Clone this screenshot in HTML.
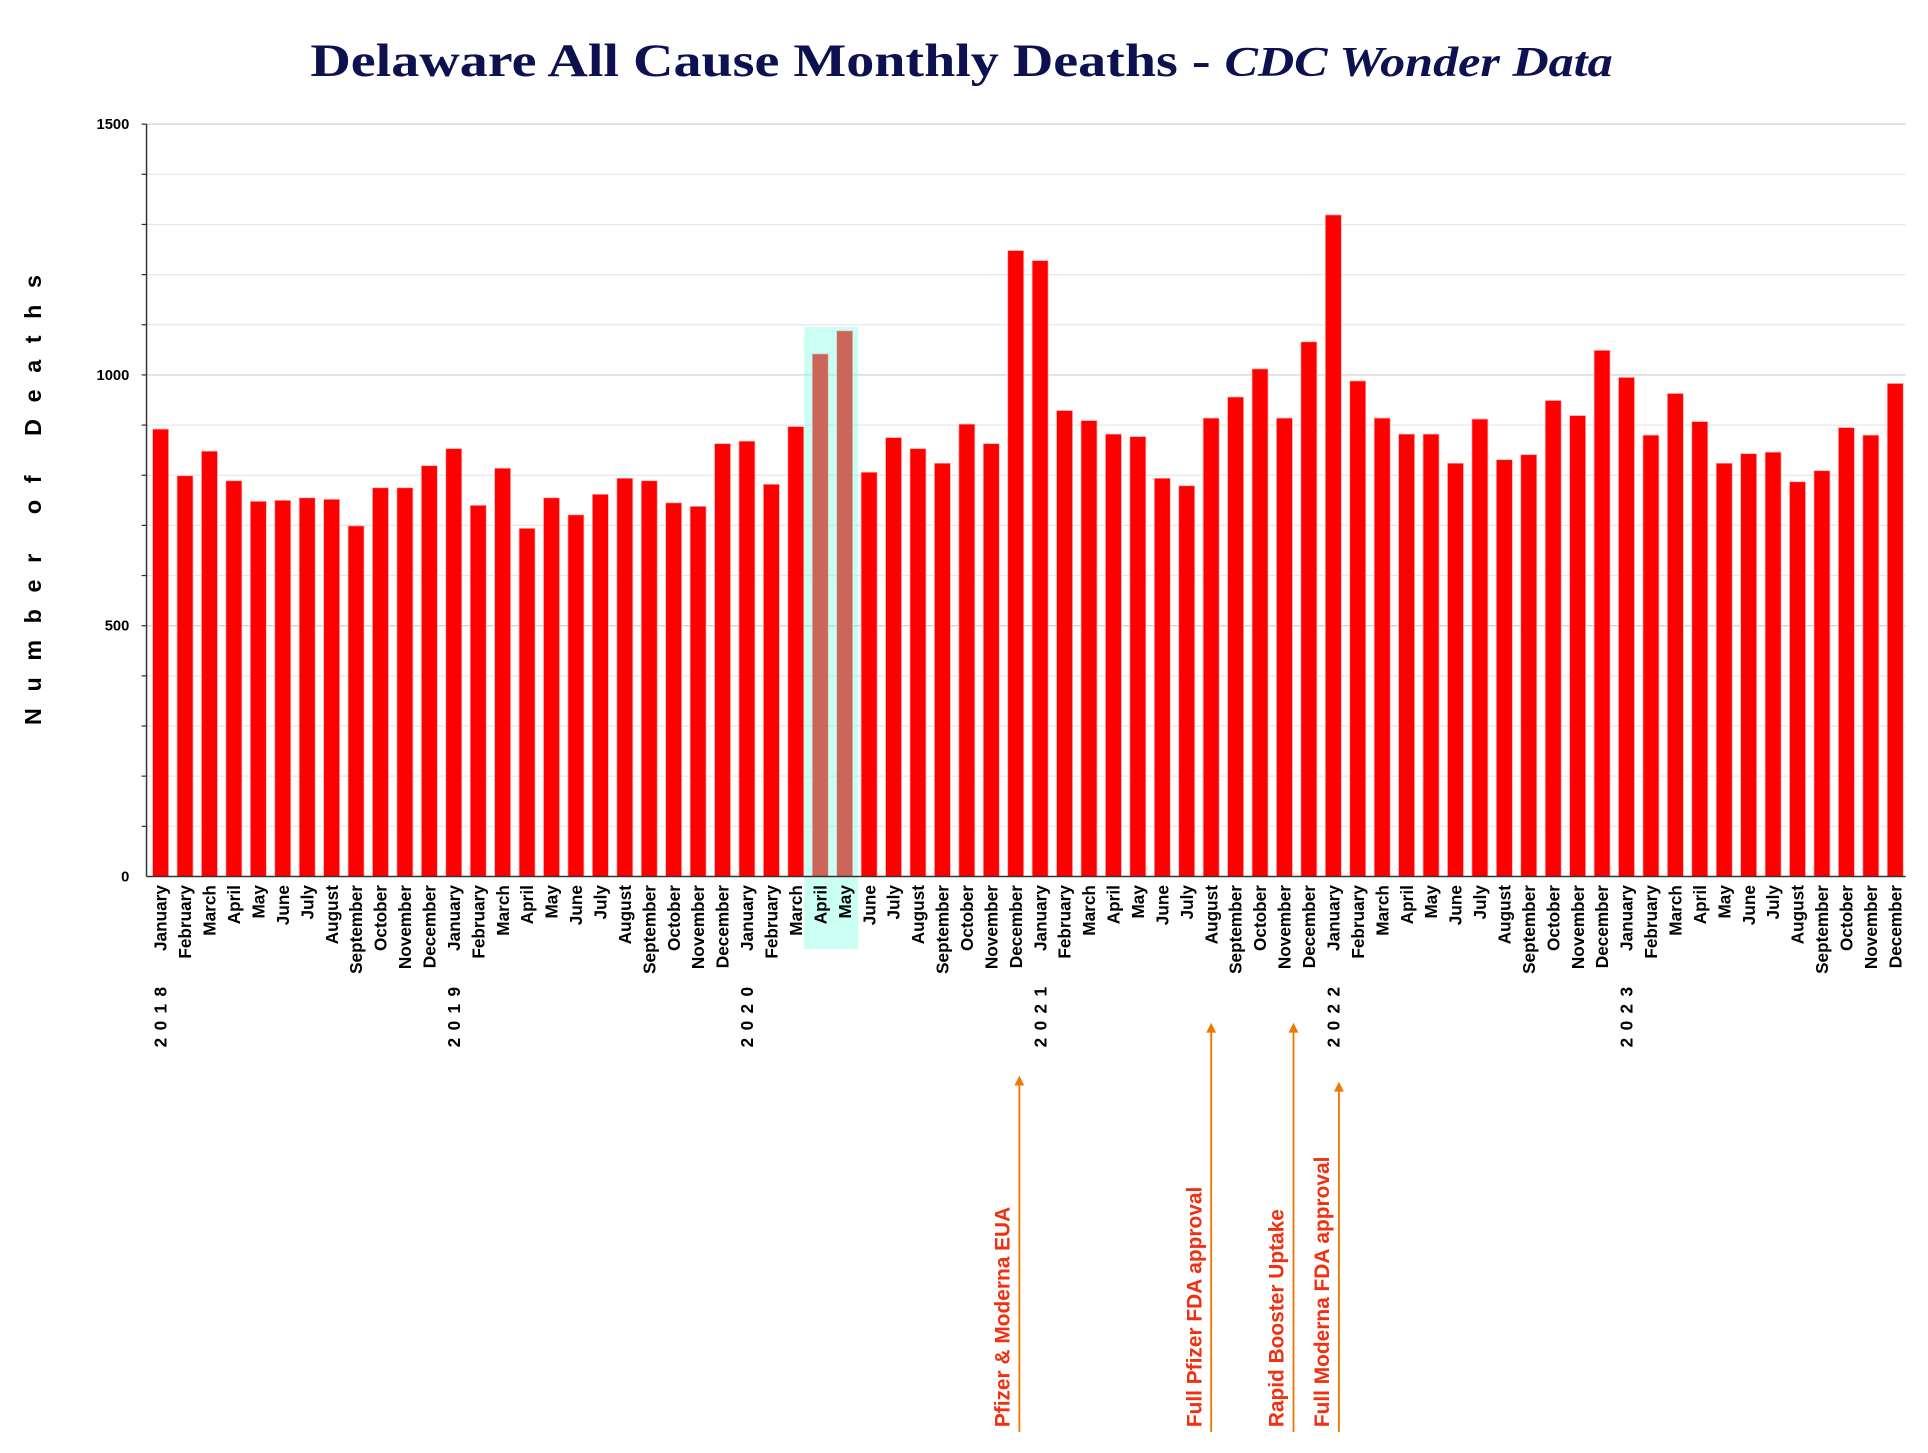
<!DOCTYPE html>
<html><head><meta charset="utf-8"><style>
html,body{margin:0;padding:0;background:#fff;}
svg{display:block;}
</style></head><body>
<svg id="chart" width="1928" height="1453" viewBox="0 0 1568 1182" xmlns="http://www.w3.org/2000/svg">
<rect width="1568" height="1182" fill="#fff"/>
<g transform="translate(782,0) scale(1.2,1)">
<text x="0" y="62" text-anchor="middle" font-family="Liberation Serif, serif" font-weight="bold" font-size="38" fill="#0d1150">Delaware All Cause Monthly Deaths - <tspan font-style="italic" font-size="34">CDC Wonder Data</tspan></text>
</g>
<text transform="translate(33,400) rotate(-90)" text-anchor="middle" font-family="Liberation Sans, sans-serif" font-weight="bold" font-size="19" letter-spacing="13.5" fill="#000">Number of Deaths</text>
<g id="grid"></g><g id="bars"></g><g id="labels"></g><g id="ann"></g>
</svg>
<script>
const years = ["2018","2019","2020","2021","2022","2023"];
const months = ["January","February","March","April","May","June","July","August","September","October","November","December"];
const deaths2018 = [892,799,848,789,748,750,755,752,699,775,775,819];
const deaths2019 = [853,740,814,694,755,721,762,794,789,745,738,863];
const deaths2020 = [868,782,897,1042,1088,806,875,853,824,902,863,1248];
const deaths2021 = [1228,929,909,882,877,794,779,914,956,1012,914,1066];
const deaths2022 = [1319,988,914,882,882,824,912,831,841,949,919,1049];
const deaths2023 = [995,880,963,907,824,843,846,787,809,895,880,983];
const yTicks = [0,500,1000,1500];
const annotations = ["Pfizer & Moderna EUA","Full Pfizer FDA approval","Rapid Booster Uptake","Full Moderna FDA approval"];
const annIndex = [35.15,43.0,46.37,48.23];
const annTop = [875,832,832,880];

const NS="http://www.w3.org/2000/svg";
const values=[].concat(deaths2018,deaths2019,deaths2020,deaths2021,deaths2022,deaths2023);
const X0=119,X1=1550,Y0=713,Y1=101,YMAX=1500;
const slot=(X1-X0)/values.length;
const y=v=>Y0-(v/YMAX)*(Y0-Y1);
const xc=i=>X0+slot*(i+0.5)+1.5;
function mk(tag,attrs,parent){const e=document.createElementNS(NS,tag);for(const k in attrs)e.setAttribute(k,attrs[k]);parent.appendChild(e);return e;}
const grid=document.getElementById('grid'),bars=document.getElementById('bars'),labels=document.getElementById('labels'),ann=document.getElementById('ann');
for(let v=100;v<=YMAX;v+=100){
  const l=mk('line',{x1:X0,x2:X1,y1:y(v),y2:y(v),stroke:v%500===0?'#cfcfcf':'#e8e8e8','stroke-width':1},grid);
  
  
  const t=mk('line',{x1:X0-4,x2:X0,y1:y(v),y2:y(v),stroke:'#333','stroke-width':1},grid);
  
  
}
yTicks.forEach(v=>{
  const t=mk('text',{x:X0-14,y:y(v)+4,'text-anchor':'end','font-family':'Liberation Sans, sans-serif','font-weight':'bold','font-size':12,fill:'#000'},grid);
  t.textContent=v;
  
  
});
values.forEach((v,i)=>{
  const r=mk('rect',{x:xc(i)-6.5,y:y(v),width:13,height:Y0-y(v),fill:'#ff0000',stroke:'#ffb0b0','stroke-width':0.6},bars);
  
  
  const t=mk('text',{transform:'translate('+(xc(i)+5)+',720) rotate(-90)','text-anchor':'end','font-family':'Liberation Sans, sans-serif','font-weight':'bold','font-size':14,fill:'#000'},labels);
  t.textContent=months[i%12];
  
  
  if(i%12===0){
    const yt=mk('text',{transform:'translate('+(xc(i)+5)+',852) rotate(-90)','text-anchor':'start','font-family':'Liberation Sans, sans-serif','font-weight':'bold','font-size':14,'letter-spacing':'6',fill:'#000'},labels);
    yt.textContent=years[i/12];
    
    
  }
});
const hl=mk('rect',{x:654,y:266,width:44,height:506,fill:'#7fffe0','fill-opacity':0.4},bars);


mk('line',{x1:X0,x2:X0,y1:Y1,y2:Y0,stroke:'#333','stroke-width':1.2},grid);
mk('line',{x1:X0,x2:X1,y1:Y0,y2:Y0,stroke:'#333','stroke-width':1.2},bars);
annotations.forEach((a,k)=>{
  const x=xc(annIndex[k]);
  const l=mk('line',{x1:x,x2:x,y1:1165,y2:annTop[k]+6,stroke:'#f07800','stroke-width':1.5},ann);
  
  
  mk('polygon',{points:(x-4)+','+(annTop[k]+8)+' '+(x+4)+','+(annTop[k]+8)+' '+x+','+annTop[k],fill:'#f07800'},ann);
  const t=mk('text',{transform:'translate('+(x-8)+',1161) rotate(-90)','text-anchor':'start','font-family':'Liberation Sans, sans-serif','font-weight':'bold','font-size':17,fill:'#f03010'},ann);
  t.textContent=a;
  
  
});
</script>
</body></html>
